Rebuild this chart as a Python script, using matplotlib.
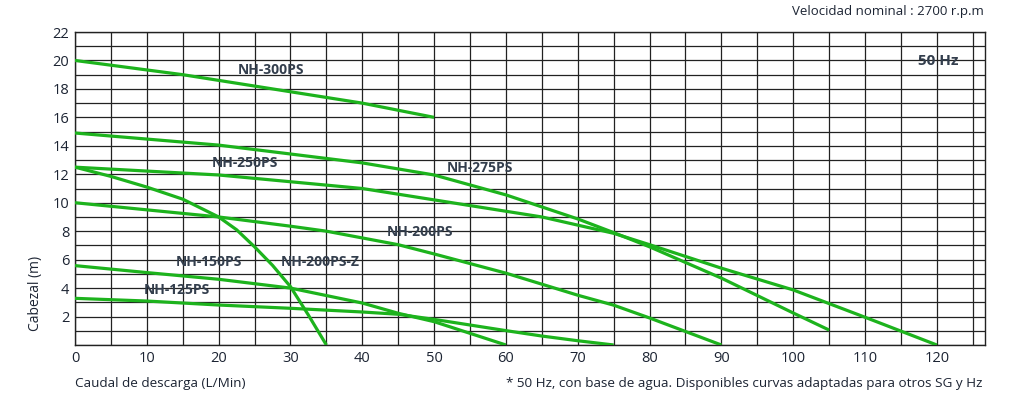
import matplotlib
matplotlib.use("Agg")
import matplotlib.pyplot as plt
from matplotlib.ticker import MultipleLocator

# Curve data (flow in L/Min, head in m)
flow_300 = [0, 15, 25, 40, 50]
head_300 = [20, 19, 18.2, 17, 16]

flow_275 = [0, 20, 40, 50, 60, 70, 75, 80, 90, 100, 105]
head_275 = [14.9, 14.05, 12.8, 11.95, 10.55, 8.86, 7.9, 6.9, 4.7, 2.25, 1.05]

flow_250 = [0, 20, 40, 50, 65, 75, 80, 90, 100, 110, 120]
head_250 = [12.5, 11.95, 11.0, 10.2, 9.0, 7.85, 7.05, 5.4, 3.87, 1.95, 0]

flow_200 = [0, 10, 20, 30, 35, 45, 50, 60, 70, 75, 80, 90]
head_200 = [10, 9.5, 9.0, 8.35, 8.0, 7.05, 6.4, 5.05, 3.5, 2.8, 1.9, 0]

flow_200z = [0, 5, 10, 15, 20, 22.5, 25, 27.5, 30, 32.5, 35]
head_200z = [12.5, 11.85, 11.1, 10.25, 9.0, 8.1, 6.9, 5.6, 4.1, 2.1, 0]

flow_150 = [0, 10, 20, 30, 40, 45, 50, 60]
head_150 = [5.58, 5.09, 4.62, 4.0, 2.95, 2.23, 1.64, 0]

flow_125 = [0, 10, 20, 30, 40, 45, 50, 60, 65, 70, 75]
head_125 = [3.28, 3.09, 2.81, 2.58, 2.32, 2.16, 1.8, 1.01, 0.63, 0.3, 0]

# label text and its position (flow, head)
labels = ["NH-300PS", "NH-250PS", "NH-275PS", "NH-200PS", "NH-150PS", "NH-200PS-Z", "NH-125PS"]
label_x = [27.3, 23.6, 56.4, 48.1, 18.6, 34.1, 14.25]
label_y = [19.34, 12.82, 12.43, 7.97, 5.86, 5.86, 3.87]

x_ticks = list(range(0, 121, 10))
y_ticks = list(range(2, 23, 2))

plt.rcParams['font.family'] = ['Open Sans', 'DejaVu Sans']

green = '#1db31d'
text_col = '#1c2433'
label_col = '#333e4d'
grid_col = '#222222'

fig = plt.figure(figsize=(10.24, 4.12), dpi=100)
ax = fig.add_axes([75 / 1024, 1 - 345 / 412, 910 / 1024, 313 / 412])

curves = [
    (flow_300, head_300),
    (flow_275, head_275),
    (flow_250, head_250),
    (flow_200, head_200),
    (flow_200z, head_200z),
    (flow_150, head_150),
    (flow_125, head_125),
]
for fx, hy in curves:
    ax.plot(fx, hy, color=green, linewidth=2.3, solid_capstyle='butt', zorder=3)

for txt, lx, ly in zip(labels, label_x, label_y):
    ax.text(lx, ly, txt, ha='center', va='center', fontsize=10, fontweight='bold',
            color=label_col, zorder=4)
ax.text(120.2, 19.97, "50 Hz", ha='center', va='center', fontsize=11, fontweight='bold',
        color=label_col, zorder=4)

ax.set_xlim(0, 126.7)
ax.set_ylim(0, 22)
ax.set_xticks(x_ticks)
ax.set_yticks(y_ticks)
ax.xaxis.set_minor_locator(MultipleLocator(5))
ax.yaxis.set_minor_locator(MultipleLocator(1))
ax.grid(which='both', color=grid_col, linewidth=0.9, zorder=1)
ax.set_axisbelow(True)
ax.tick_params(which='both', length=0)
ax.tick_params(axis='x', pad=4, labelsize=10.5, labelcolor=text_col)
ax.tick_params(axis='y', pad=4, labelsize=10.5, labelcolor=text_col)
for sp in ax.spines.values():
    sp.set_color(grid_col)
    sp.set_linewidth(1.0)

fig.text(36 / 1024, 1 - 293.5 / 412, "Cabezal (m)", rotation=90, ha='center', va='center',
         fontsize=10, color=text_col)
fig.text(75 / 1024, 1 - 383 / 412, "Caudal de descarga (L/Min)", ha='left', va='center',
         fontsize=9.7, color=text_col)
fig.text(982 / 1024, 1 - 383 / 412,
         "* 50 Hz, con base de agua. Disponibles curvas adaptadas para otros SG y Hz",
         ha='right', va='center', fontsize=9.7, color=text_col)
fig.text(984 / 1024, 1 - 12 / 412, "Velocidad nominal : 2700 r.p.m", ha='right', va='center',
         fontsize=9.5, color=text_col)

plt.savefig('out.png', dpi=100)
plt.close()
